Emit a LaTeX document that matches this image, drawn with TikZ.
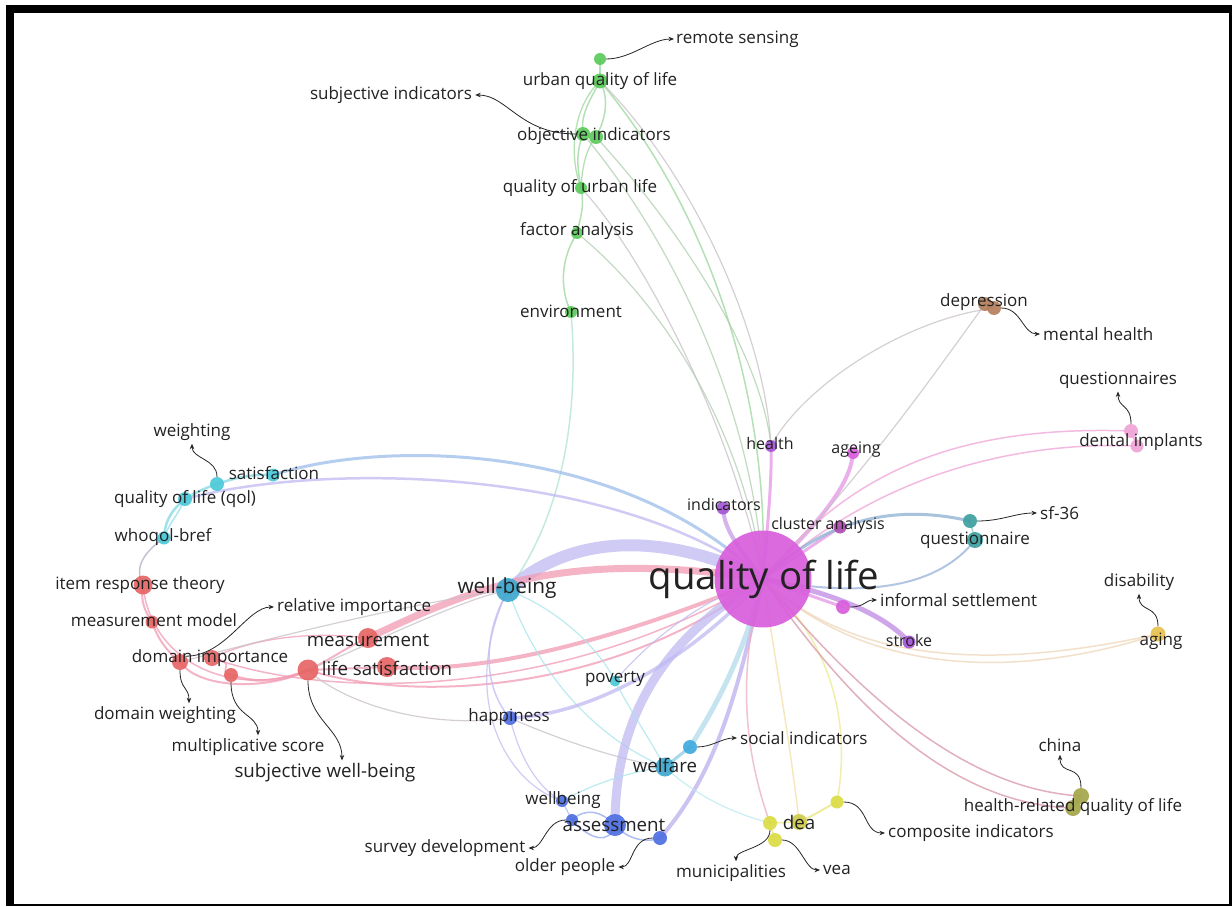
\documentclass[tikz,border=0pt]{standalone}
\usepackage{fontspec}
\setmainfont{Open Sans}
\usetikzlibrary{arrows.meta}
\pgfdeclarelayer{bgl}
\pgfdeclarelayer{edl}
\pgfsetlayers{bgl,edl,main}
\definecolor{cgreen}{HTML}{5CCB5C}
\definecolor{cgreenE}{HTML}{9BD89B}
\definecolor{ccyan}{HTML}{4CC9D9}
\definecolor{cwb}{HTML}{3EA8CF}
\definecolor{cred}{HTML}{E76565}
\definecolor{credE}{HTML}{F29AB4}
\definecolor{cblue}{HTML}{4F6FE2}
\definecolor{cyel}{HTML}{DCDC45}
\definecolor{cyelD}{HTML}{CFCB4E}
\definecolor{colive}{HTML}{A3A64A}
\definecolor{cbrown}{HTML}{B4805E}
\definecolor{cpink}{HTML}{F0A4D8}
\definecolor{cteal}{HTML}{3FA0A0}
\definecolor{cmag}{HTML}{D95EDC}
\definecolor{cpur}{HTML}{A556D6}
\definecolor{corange}{HTML}{E8C24E}
\definecolor{clav}{HTML}{C0BAF2}
\definecolor{cmagE}{HTML}{E596E6}
\definecolor{cgray}{HTML}{C8C0C8}
\definecolor{cagE}{HTML}{EED6B8}
\definecolor{txt}{HTML}{222222}
\newcommand{\fsS}{\fontsize{16}{19}\selectfont}
\newcommand{\fsA}{\fontsize{17}{20}\selectfont}
\newcommand{\fsB}{\fontsize{18.7}{22}\selectfont}
\newcommand{\fsC}{\fontsize{20.8}{24}\selectfont}
\newcommand{\fsQ}{\fontsize{38.4}{44}\selectfont}
\begin{document}
\begin{tikzpicture}[x=1pt,y=-1pt,
 dt/.style={circle,inner sep=0pt,minimum size=#1,draw=none,fill opacity=0.92},
 lb/.style={inner sep=0pt,text=txt,font=\fsA},
 lbS/.style={lb,font=\fsS},
 lbB/.style={lb,font=\fsB},
 lbC/.style={lb,font=\fsC},
 lbQ/.style={lb,font=\fsQ},
 ln/.style={line width=#1,line cap=round,draw opacity=0.75},
 ln/.default=1.2,
 ar/.style={draw=black!85,line width=0.8pt,-{Stealth[length=5.5pt,width=4.5pt]}}]
\useasboundingbox (0,0) rectangle (1232,907);
\begin{pgfonlayer}{bgl}
\fill[white] (0,0) rectangle (1232,907);
\fill[black] (6,5) rectangle (1232,906);
\fill[white] (14,13) rectangle (1229,904);
\end{pgfonlayer}
% ---------- dots
\node[dt=12,fill=cgreen] (gRS) at (600,59) {};
\node[dt=15,fill=cgreen] (gUQL) at (600,81) {};
\node[dt=14,fill=cgreen] (gOI) at (583,134) {};
\node[dt=14,fill=cgreen] (gSI) at (596,137) {};
\node[dt=12,fill=cgreen] (gQUL) at (581,188) {};
\node[dt=12,fill=cgreen] (gFA) at (577,233) {};
\node[dt=12,fill=cgreen] (gENV) at (571,312) {};
\node[dt=13,fill=ccyan] (cSAT) at (273,475) {};
\node[dt=14,fill=ccyan] (cWT) at (217,484) {};
\node[dt=14,fill=ccyan] (cQOL) at (185,499) {};
\node[dt=13,fill=ccyan] (cWHO) at (164,538) {};
\node[dt=24,fill=cwb] (cWB) at (508,590) {};
\node[dt=11,fill=ccyan] (cPOV) at (615,681) {};
\node[dt=19,fill=cwb] (cWEL) at (665,767) {};
\node[dt=14,fill=ccyan!85!blue] (cSOC) at (690,747) {};
\node[dt=19,fill=cred] (rIRT) at (143,585) {};
\node[dt=13,fill=cred] (rMM) at (152,622) {};
\node[dt=16,fill=cred] (rDI1) at (180,662) {};
\node[dt=16,fill=cred] (rDI2) at (212,658) {};
\node[dt=14,fill=cred] (rMS) at (231,675) {};
\node[dt=21,fill=cred] (rLS) at (308,670) {};
\node[dt=20,fill=cred] (rLS2) at (387,667) {};
\node[dt=20,fill=cred] (rMEAS) at (368,638) {};
\node[dt=14,fill=cblue] (bHAP) at (510,718) {};
\node[dt=12,fill=cblue] (bWB) at (562,801) {};
\node[dt=12,fill=cblue] (bAS1) at (572,820) {};
\node[dt=22,fill=cblue] (bAS2) at (615,825) {};
\node[dt=14,fill=cblue] (bOP) at (660,838) {};
\node[dt=14,fill=cyel] (yDEA1) at (770,823) {};
\node[dt=16,fill=cyelD] (yDEA2) at (799,822) {};
\node[dt=14,fill=cyel] (yVEA) at (775,840) {};
\node[dt=13,fill=cyel] (yCI) at (837,802) {};
\node[dt=15,fill=corange] (oAG) at (1158,634) {};
\node[dt=16,fill=colive] (olH1) at (1081,796) {};
\node[dt=16,fill=colive] (olH2) at (1073,808) {};
\node[dt=14,fill=cbrown] (brD1) at (985,304) {};
\node[dt=14,fill=cbrown] (brD2) at (994,308) {};
\node[dt=14,fill=cpink] (pDI1) at (1131,431) {};
\node[dt=13,fill=cpink] (pDI2) at (1137,446) {};
\node[dt=14,fill=cteal] (tQ1) at (970,521) {};
\node[dt=16,fill=cteal] (tQ2) at (975,540) {};
\node[dt=97,fill=cmag] (mQOL) at (763,579) {};
\node[dt=12,fill=cpur] (mHE) at (771,446) {};
\node[dt=12,fill=cmag] (mAG) at (853,453) {};
\node[dt=13,fill=cpur] (mIND) at (723,508) {};
\node[dt=13,fill=cmag!80!black] (mCA) at (840,527) {};
\node[dt=14,fill=cmag] (mINF) at (843,607) {};
\node[dt=13,fill=cpur] (mSTR) at (909,642) {};
% ---------- labels
\node[lb,anchor=west] (rsL) at (676,39) {remote sensing};
\node[lb] (uqlL) at (600,81) {urban quality of life};
\node[lb] (siL) at (391,95) {subjective indicators};
\node[lb] (oiL) at (594,136) {objective indicators};
\node[lb] (qulL) at (580,188) {quality of urban life};
\node[lb] (faL) at (577,231) {factor analysis};
\node[lb] (envL) at (571,311) {environment};
\node[lb] (wtL) at (192,432) {weighting};
\node[lb] (satL) at (274,473) {satisfaction};
\node[lb] (qolL) at (185,499) {quality of life (qol)};
\node[lb] (whoL) at (163,537) {whoqol-bref};
\node[lb] (irtL) at (140,585) {item response theory};
\node[lb] (mmL) at (154,620) {measurement model};
\node[lb,anchor=west] (riL) at (277,607) {relative importance};
\node[lbB] (measL) at (368,640) {measurement};
\node[lb] (diL) at (210,658) {domain importance};
\node[lbB] (lsL) at (387,668) {life satisfaction};
\node[lb] (dwL) at (165,715) {domain weighting};
\node[lb] (msL) at (248,747) {multiplicative score};
\node[lbB] (swbL) at (325,773) {subjective well-being};
\node[lbC] (wbL) at (507,588) {well-being};
\node[lb] (povL) at (615,679) {poverty};
\node[lb] (hapL) at (509,717) {happiness};
\node[lb,anchor=west] (socL) at (740,738) {social indicators};
\node[lbB] (welL) at (665,765) {welfare};
\node[lb] (wbbL) at (563,800) {wellbeing};
\node[lbB] (asL) at (614,825) {assessment};
\node[lb] (sdL) at (445,848) {survey development};
\node[lb] (opL) at (565,867) {older people};
\node[lbB] (deaL) at (799,822) {dea};
\node[lb] (muL) at (731,873) {municipalities};
\node[lb,anchor=west] (veaL) at (823,870) {vea};
\node[lb,anchor=west] (ciL) at (888,833) {composite indicators};
\node[lb] (chL) at (1060,745) {china};
\node[lb] (hrL) at (1073,807) {health-related quality of life};
\node[lb] (disL) at (1139,582) {disability};
\node[lb] (agL) at (1161,641) {aging};
\node[lb] (deL) at (984,302) {depression};
\node[lb,anchor=west] (mhL) at (1043,334) {mental health};
\node[lb] (qsL) at (1118,380) {questionnaires};
\node[lb] (dentL) at (1141,442) {dental implants};
\node[lbS] (heL) at (770,443) {health};
\node[lbS] (agbL) at (856,450) {ageing};
\node[lbS] (indL) at (724,504) {indicators};
\node[lbS] (caL) at (828,525) {cluster analysis};
\node[lb,anchor=west] (sfL) at (1040,513) {sf-36};
\node[lb] (qnL) at (975,540) {questionnaire};
\node[lb,anchor=west] (infL) at (880,600) {informal settlement};
\node[lbS] (strL) at (909,640) {stroke};
\node[lbQ] (qolbigL) at (764,579) {quality of life};
% ---------- edges
\begin{pgfonlayer}{edl}
\draw[ln=1.5,cgreenE] (gRS.center) -- (gUQL.center);
\draw[ln=1.5,cgreenE] (gUQL.center) .. controls (590,100) and (580,115) .. (gOI.center);
\draw[ln=1.5,cgreenE] (gUQL.center) .. controls (610,100) and (605,120) .. (gSI.center);
\draw[ln=1.3,cgreenE] (gUQL.center) .. controls (570,110) and (570,160) .. (gQUL.center);
\draw[ln=1.5,cgreenE] (gOI.center) .. controls (575,155) and (578,170) .. (gQUL.center);
\draw[ln=1.3,cgreenE] (gSI.center) .. controls (585,150) and (582,170) .. (gQUL.center);
\draw[ln=1.5,cgreenE] (gQUL.center) .. controls (585,205) and (580,220) .. (gFA.center);
\draw[ln=1.5,cgreenE] (gFA.center) .. controls (560,260) and (560,290) .. (gENV.center);
\draw[ln=1.5,cgreenE] (gUQL.center) .. controls (700,200) and (770,380) .. (mQOL.center);
\draw[ln=1.2,cgray] (gUQL.center) .. controls (690,170) and (765,330) .. (mHE.center);
\draw[ln=1.2,cgreenE!60!cgray] (gOI.center) .. controls (680,250) and (755,420) .. (mQOL.center);
\draw[ln=1.2,cgreenE!60!cgray] (gSI.center) .. controls (690,240) and (762,360) .. (mHE.center);
\draw[ln=1.2,cgray] (gQUL.center) .. controls (640,250) and (730,420) .. (mQOL.center);
\draw[ln=1.2,cgreenE!50!cgray] (gFA.center) .. controls (660,300) and (745,430) .. (mQOL.center);
\draw[ln=1.5,cgreenE!60!ccyan!60] (gENV.center) .. controls (580,420) and (560,520) .. (cWB.center);
% well-being and red bands
\draw[ln=12,clav] (cWB.center) .. controls (570,535) and (660,530) .. (mQOL.center);
\draw[ln=7,credE] (rMEAS.center) .. controls (470,590) and (560,548) .. (mQOL.center);
\draw[ln=4,credE] (rLS2.center) .. controls (500,675) and (640,630) .. (mQOL.center);
\draw[ln=2,credE] (rLS.center) .. controls (420,705) and (620,690) .. (mQOL.center);
\draw[ln=1.5,credE] (rDI2.center) .. controls (330,700) and (560,700) .. (mQOL.center);
% satisfaction arcs
\draw[ln=3,clav!70!ccyan] (mQOL.center) .. controls (620,440) and (380,440) .. (cSAT.center);
\draw[ln=2.5,clav] (mQOL.center) .. controls (620,470) and (330,460) .. (cQOL.center);
\draw[ln=2.5,ccyan!70] (cSAT.center) .. controls (250,474) and (235,478) .. (cWT.center);
\draw[ln=2.5,ccyan!70] (cWT.center) .. controls (185,495) and (165,510) .. (cWHO.center);
\draw[ln=1.5,ccyan!60] (cQOL.center) .. controls (178,515) and (168,525) .. (cWHO.center);
\draw[ln=1.5,credE!60!ccyan] (cWHO.center) .. controls (140,555) and (135,570) .. (rIRT.center);
\draw[ln=2,credE] (rIRT.center) .. controls (140,600) and (145,612) .. (rMM.center);
\draw[ln=2,credE] (rMM.center) .. controls (158,640) and (168,652) .. (rDI1.center);
\draw[ln=1.5,credE] (rIRT.center) .. controls (150,660) and (230,700) .. (rLS.center);
\draw[ln=2,credE] (rDI1.center) .. controls (200,690) and (270,690) .. (rLS.center);
\draw[ln=2.5,credE] (rMS.center) .. controls (260,685) and (285,680) .. (rLS.center);
\draw[ln=1.5,credE] (rDI2.center) .. controls (240,662) and (215,672) .. (rMS.center);
\draw[ln=1.3,credE] (rDI2.center) .. controls (260,635) and (320,632) .. (rMEAS.center);
\draw[ln=2,credE] (rLS.center) .. controls (330,660) and (350,645) .. (rMEAS.center);
\draw[ln=2,credE] (rLS.center) -- (rLS2.center);
\draw[ln=1.2,cgray] (rLS.center) .. controls (380,640) and (460,600) .. (cWB.center);
\draw[ln=1.2,cgray] (rDI1.center) .. controls (300,630) and (430,600) .. (cWB.center);
% well-being spokes
\draw[ln=1.5,clav] (cWB.center) .. controls (480,640) and (485,690) .. (bHAP.center);
\draw[ln=1.2,ccyan!50] (cWB.center) .. controls (540,680) and (600,740) .. (cWEL.center);
\draw[ln=1.2,clav] (cWB.center) .. controls (460,690) and (500,780) .. (bWB.center);
\draw[ln=1.2,ccyan!50] (cWB.center) .. controls (560,610) and (600,650) .. (cPOV.center);
% happiness
\draw[ln=3.5,clav] (bHAP.center) .. controls (600,715) and (700,650) .. (mQOL.center);
\draw[ln=1.2,cgray] (bHAP.center) .. controls (420,730) and (340,700) .. (rLS.center);
\draw[ln=1.2,clav] (bHAP.center) .. controls (520,760) and (540,790) .. (bWB.center);
\draw[ln=1.2,cgray] (bHAP.center) .. controls (560,740) and (620,760) .. (cWEL.center);
% assessment / welfare
\draw[ln=9,clav] (bAS2.center) .. controls (615,720) and (660,640) .. (mQOL.center);
\draw[ln=4,clav!90!cpur] (bOP.center) .. controls (720,770) and (740,680) .. (mQOL.center);
\draw[ln=5,cwb!40] (cSOC.center) .. controls (720,700) and (745,650) .. (mQOL.center);
\draw[ln=3,cwb!60] (cWEL.center) -- (cSOC.center);
\draw[ln=1.5,cblue!60] (bAS1.center) .. controls (585,808) and (600,810) .. (bAS2.center);
\draw[ln=1.5,cblue!60] (bAS1.center) .. controls (590,840) and (610,845) .. (bAS2.center);
\draw[ln=1.5,cblue!60] (bAS2.center) .. controls (630,842) and (650,842) .. (bOP.center);
\draw[ln=1.2,cblue!50] (bWB.center) -- (bAS1.center);
\draw[ln=1.2,ccyan!50] (bWB.center) .. controls (600,780) and (640,770) .. (cWEL.center);
\draw[ln=1.2,ccyan!40] (cWEL.center) .. controls (700,800) and (740,815) .. (yDEA1.center);
\draw[ln=1.2,ccyan!50] (cPOV.center) .. controls (630,710) and (650,740) .. (cWEL.center);
\draw[ln=1.2,clav] (cPOV.center) .. controls (650,640) and (700,600) .. (mQOL.center);
% dea
\draw[ln=1.5,cpink!80!cyel] (yDEA1.center) .. controls (740,740) and (740,660) .. (mQOL.center);
\draw[ln=1.5,corange!50] (yDEA2.center) .. controls (790,740) and (775,660) .. (mQOL.center);
\draw[ln=1.5,cyel!60] (yCI.center) .. controls (852,720) and (830,640) .. (mQOL.center);
\draw[ln=2,cyel!70] (yDEA2.center) .. controls (815,815) and (828,806) .. (yCI.center);
\draw[ln=1.5,cyel!70] (yDEA1.center) -- (yDEA2.center);
\draw[ln=1.5,cyel!70] (yDEA1.center) -- (yVEA.center);
% right spokes
\draw[ln=5,cpur!70] (mQOL.center) .. controls (820,590) and (880,610) .. (mSTR.center);
\draw[ln=3,cmagE] (mQOL.center) -- (mINF.center);
\draw[ln=3,cmagE] (mQOL.center) -- (mCA.center);
\draw[ln=4,cmagE] (mQOL.center) .. controls (810,530) and (850,490) .. (mAG.center);
\draw[ln=3,cmagE] (mQOL.center) .. controls (768,520) and (772,480) .. (mHE.center);
\draw[ln=4,cpur!60] (mQOL.center) .. controls (740,550) and (724,530) .. (mIND.center);
\draw[ln=1.5,cpink] (mQOL.center) .. controls (850,470) and (960,425) .. (pDI1.center);
\draw[ln=1.5,cpink] (mQOL.center) .. controls (860,490) and (990,440) .. (pDI2.center);
\draw[ln=3,cteal!40!clav] (mQOL.center) .. controls (830,515) and (900,505) .. (tQ1.center);
\draw[ln=2,cteal!30!clav] (mQOL.center) .. controls (870,600) and (940,585) .. (tQ2.center);
\draw[ln=1.5,cteal!60] (tQ1.center) -- (tQ2.center);
\draw[ln=1.5,cagE] (mQOL.center) .. controls (880,690) and (1050,670) .. (oAG.center);
\draw[ln=1.5,cagE] (mQOL.center) .. controls (870,680) and (1040,660) .. (oAG.center);
\draw[ln=1.5,cpink!60!cbrown] (mQOL.center) .. controls (880,720) and (980,790) .. (olH1.center);
\draw[ln=1.5,cpink!60!cbrown] (mQOL.center) .. controls (870,735) and (970,805) .. (olH2.center);
\draw[ln=1.2,cgray] (mQOL.center) .. controls (860,480) and (930,380) .. (brD1.center);
\draw[ln=1.2,cgray] (mHE.center) .. controls (800,390) and (900,320) .. (brD2.center);
\draw[ln=2,cbrown!60] (brD1.center) -- (brD2.center);
\draw[ln=2,cpink] (pDI1.center) -- (pDI2.center);
\draw[ln=2,colive!60] (olH1.center) -- (olH2.center);
\end{pgfonlayer}
% ---------- annotation arrows
\draw[ar] (gRS.east) .. controls ([xshift=25pt]gRS.east) and ([xshift=-25pt]rsL.west) .. ([xshift=-2pt]rsL.west);
\draw[ar] (gOI.west) .. controls ([xshift=-56pt]gOI.west) and ([xshift=35pt]siL.east) .. ([xshift=3pt]siL.east);
\draw[ar] (cWT.north) .. controls ([yshift=18pt]cWT.north) and ([yshift=-18pt]wtL.south) .. ([yshift=-3pt]wtL.south);
\draw[ar] (rDI1.north east) .. controls ([xshift=40pt]rDI1.north east) and ([xshift=-30pt]riL.west) .. ([xshift=-3pt]riL.west);
\draw[ar] (rDI1.south) .. controls ([yshift=-20pt]rDI1.south) and ([xshift=24pt,yshift=20pt]dwL.north) .. ([xshift=24pt,yshift=3pt]dwL.north);
\draw[ar] (rMS.south) .. controls ([yshift=-35pt]rMS.south) and ([xshift=10pt,yshift=25pt]msL.north) .. ([xshift=10pt,yshift=3pt]msL.north);
\draw[ar] (rLS.south) .. controls ([yshift=-40pt]rLS.south) and ([xshift=17pt,yshift=35pt]swbL.north) .. ([xshift=17pt,yshift=3pt]swbL.north);
\draw[ar] (cSOC.east) .. controls ([xshift=15pt]cSOC.east) and ([xshift=-18pt]socL.west) .. ([xshift=-3pt]socL.west);
\draw[ar] (bAS1.west) .. controls ([xshift=-20pt]bAS1.west) and ([xshift=18pt]sdL.east) .. ([xshift=3pt]sdL.east);
\draw[ar] (bOP.west) .. controls ([xshift=-22pt]bOP.west) and ([xshift=18pt]opL.east) .. ([xshift=3pt]opL.east);
\draw[ar] (yDEA1.south) .. controls ([yshift=-18pt]yDEA1.south) and ([xshift=5pt,yshift=15pt]muL.north) .. ([xshift=5pt,yshift=3pt]muL.north);
\draw[ar] (yVEA.east) .. controls ([xshift=18pt]yVEA.east) and ([xshift=-18pt]veaL.west) .. ([xshift=-3pt]veaL.west);
\draw[ar] (yCI.east) .. controls ([xshift=25pt]yCI.east) and ([xshift=-25pt]ciL.west) .. ([xshift=-3pt]ciL.west);
\draw[ar] (mINF.east) .. controls ([xshift=15pt]mINF.east) and ([xshift=-15pt]infL.west) .. ([xshift=-3pt]infL.west);
\draw[ar] (tQ1.east) .. controls ([xshift=25pt]tQ1.east) and ([xshift=-25pt]sfL.west) .. ([xshift=-3pt]sfL.west);
\draw[ar] (brD2.east) .. controls ([xshift=20pt]brD2.east) and ([xshift=-20pt]mhL.west) .. ([xshift=-3pt]mhL.west);
\draw[ar] (pDI1.north) .. controls ([yshift=20pt]pDI1.north) and ([yshift=-20pt]qsL.south) .. ([yshift=-3pt]qsL.south);
\draw[ar] (oAG.north) .. controls ([yshift=22pt]oAG.north) and ([yshift=-22pt]disL.south) .. ([yshift=-3pt]disL.south);
\draw[ar] (olH1.north) .. controls ([yshift=25pt]olH1.north) and ([yshift=-25pt]chL.south) .. ([yshift=-3pt]chL.south);
\end{tikzpicture}
\end{document}
